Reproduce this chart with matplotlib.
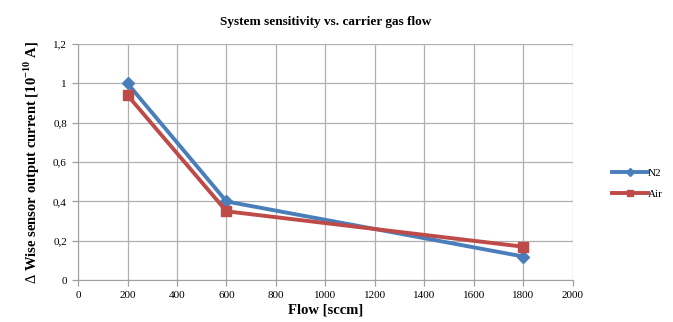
import matplotlib
matplotlib.use("Agg")
import matplotlib.pyplot as plt
from matplotlib.lines import Line2D

plt.rcParams['font.family'] = ['Liberation Serif', 'DejaVu Serif']
plt.rcParams['mathtext.fontset'] = 'custom'
plt.rcParams['mathtext.rm'] = 'Liberation Serif'
plt.rcParams['mathtext.bf'] = 'Liberation Serif:bold'

# data
flow = [200, 600, 1800]
n2 = [1.0, 0.40, 0.12]
air = [0.94, 0.35, 0.17]
xticks = [0, 200, 400, 600, 800, 1000, 1200, 1400, 1600, 1800, 2000]
yticks = [0, 0.2, 0.4, 0.6, 0.8, 1.0, 1.2]
ylabels = ['0', '0,2', '0,4', '0,6', '0,8', '1', '1,2']

blue = '#4a7ebb'
red = '#be4b48'

fig = plt.figure(figsize=(6.73, 3.22), dpi=100)
ax = fig.add_axes([0.116, 0.130, 0.735, 0.733])

ax.plot(flow, n2, color=blue, lw=2.8, marker='D', ms=6, zorder=3)
ax.plot(flow, air, color=red, lw=2.8, marker='s', ms=7, zorder=4)

ax.set_xlim(0, 2000)
ax.set_ylim(0, 1.2)
ax.set_xticks(xticks)
ax.set_xticklabels([str(v) for v in xticks], fontsize=8)
ax.set_yticks(yticks)
ax.set_yticklabels(ylabels, fontsize=8)
ax.grid(True, color='#b0b0b0', lw=0.9)
ax.set_axisbelow(True)
for s in ['top', 'right']:
    ax.spines[s].set_visible(False)
for s in ['left', 'bottom']:
    ax.spines[s].set_color('#a0a0a0')
ax.tick_params(length=4, color='#a0a0a0', width=0.9, pad=4)

ax.set_title('System sensitivity vs. carrier gas flow', fontsize=9.5,
             fontweight='bold', pad=14)
ax.set_xlabel('Flow [sccm]', fontsize=10.5, fontweight='bold', labelpad=2)
ax.set_ylabel(r'$\Delta$ Wise sensor output current [10$^{\mathbf{-10}}$ A]',
              fontsize=10.5, fontweight='bold', labelpad=8)

handles = [Line2D([], [], color=blue, lw=2.8, marker='D', ms=4),
           Line2D([], [], color=red, lw=2.8, marker='s', ms=4)]
fig.legend(handles, ['N2', 'Air'], loc='center left',
           bbox_to_anchor=(0.895, 0.43), frameon=False, fontsize=8,
           handlelength=3.2, handletextpad=0.0, labelspacing=1.0)

fig.savefig('out.png', dpi=100)
